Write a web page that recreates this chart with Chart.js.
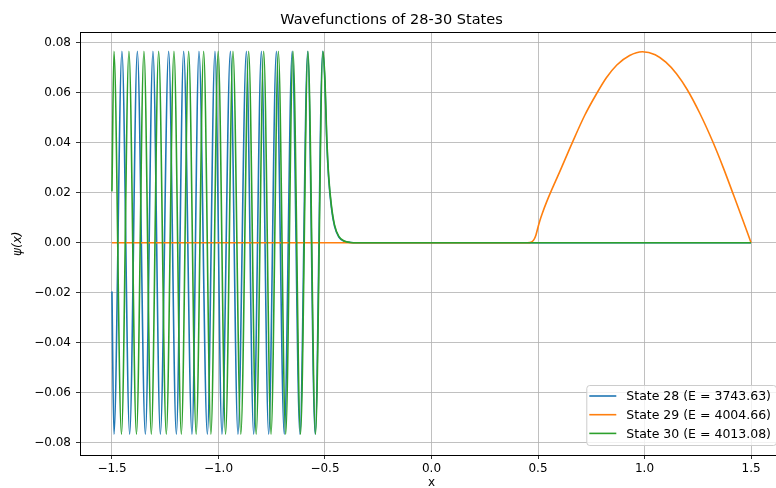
<!DOCTYPE html>
<html>
<head>
<meta charset="utf-8">
<script src="https://cdn.jsdelivr.net/npm/chart.js@4.4.1/dist/chart.umd.min.js"></script>
<style>
  html, body { margin: 0; padding: 0; background: #fff; overflow: hidden; }
  #wrap { width: 800px; height: 488px; }
</style>
</head>
<body>
<div id="wrap"><canvas id="chart" width="800" height="488"></canvas></div>
<script>
// values (extrema of each wave, then the decaying tail)
var seriesNames = ['State 28 (E = 3743.63)', 'State 29 (E = 4004.66)', 'State 30 (E = 4013.08)'];
var seriesColors = ['#1f77b4', '#ff7f0e', '#2ca02c'];

var state28X = [-1.5, -1.4906, -1.4531, -1.4169, -1.3808, -1.3432, -1.3075, -1.2728, -1.2338, -1.1977, -1.1634,
                -1.1244, -1.0915, -1.0521, -1.0164, -0.9836, -0.9441, -0.9085, -0.8690, -0.8347, -0.7986,
                -0.7643, -0.7282, -0.6911, -0.6540, -0.6176, -0.5812, -0.5460, -0.5108,
                -0.500, -0.492, -0.483, -0.470, -0.455, -0.435, -0.410, -0.380, -0.350, 1.5];
var state28Y = [-0.0195, -0.0765, 0.0765, -0.0765, 0.0765, -0.0765, 0.0765, -0.0765, 0.0765, -0.0765, 0.0765,
                -0.0765, 0.0765, -0.0765, 0.0765, -0.0765, 0.0765, -0.0765, 0.0765, -0.0765, 0.0765,
                -0.0765, 0.0765, -0.0765, 0.0765, -0.0765, 0.0765, -0.0765, 0.0765,
                0.063, 0.041, 0.026, 0.014, 0.0065, 0.0022, 0.0006, 0.0001, 0, 0];

var state29X = [-1.5, 0.45, 0.47, 0.48, 0.49, 0.50, 0.51, 0.52, 0.54, 0.56, 0.60, 0.66, 0.72, 0.77, 0.82, 0.87,
                0.93, 0.99, 1.05, 1.10, 1.15, 1.20, 1.26, 1.32, 1.37, 1.415, 1.46, 1.5];
var state29Y = [0, 0, 0.0003, 0.0011, 0.0030, 0.0062, 0.0092, 0.0117, 0.0162, 0.0203, 0.0280, 0.0398, 0.0510,
                0.0588, 0.0658, 0.0710, 0.0748, 0.0763, 0.0751, 0.0721, 0.0675, 0.0612, 0.0516, 0.0404,
                0.0299, 0.0197, 0.0094, 0];

var state30X = [-1.5, -1.4906, -1.4554, -1.4202, -1.3850, -1.3498, -1.3153, -1.2808, -1.2449, -1.2089, -1.1744,
                -1.1399, -1.1047, -1.0695, -1.0355, -1.0014, -0.9667, -0.9319, -0.8951, -0.8582, -0.8230,
                -0.7878, -0.7533, -0.7188, -0.6845, -0.6502, -0.6150, -0.5798, -0.5446, -0.5094,
                -0.500, -0.492, -0.483, -0.470, -0.455, -0.435, -0.410, -0.380, -0.350, 1.5];
var state30Y = [0.0205, 0.0765, -0.0765, 0.0765, -0.0765, 0.0765, -0.0765, 0.0765, -0.0765, 0.0765, -0.0765,
                0.0765, -0.0765, 0.0765, -0.0765, 0.0765, -0.0765, 0.0765, -0.0765, 0.0765, -0.0765,
                0.0765, -0.0765, 0.0765, -0.0765, 0.0765, -0.0765, 0.0765, -0.0765, 0.0765,
                0.065, 0.043, 0.027, 0.015, 0.007, 0.0025, 0.0007, 0.0001, 0, 0];

var xTicks = [-1.5, -1.0, -0.5, 0.0, 0.5, 1.0, 1.5];
var yTicks = [-0.08, -0.06, -0.04, -0.02, 0.00, 0.02, 0.04, 0.06, 0.08];

function pts(xs, ys){
    var out = [];
    for(var i = 0; i < xs.length; i++){
        out.push({x: xs[i], y: ys[i]});
    }
    return out;
}

function fmt(v, d){
    var s = Math.abs(v).toFixed(d);
    return (v < -1e-9 ? '\u2212' : '') + s;
}

var FONT = '"DejaVu Sans", "Liberation Sans", sans-serif';

// full box around the axes, like matplotlib spines
var framePlugin = {
    id: 'frame',
    afterDatasetsDraw: function(chart){
        var a = chart.chartArea, ctx = chart.ctx;
        ctx.save();
        ctx.strokeStyle = '#000';
        ctx.lineWidth = 1;
        ctx.strokeRect(Math.round(a.left) + 0.5, Math.round(a.top) + 0.5,
                       Math.round(a.right - a.left), Math.round(a.bottom - a.top));
        ctx.restore();
    }
};

// legend in the lower right corner of the plot
var legendPlugin = {
    id: 'boxLegend',
    afterDraw: function(chart){
        var a = chart.chartArea, ctx = chart.ctx;
        ctx.save();
        ctx.font = '12.5px ' + FONT;
        var tw = 0;
        seriesNames.forEach(function(n){ tw = Math.max(tw, ctx.measureText(n).width); });
        var w = 3 + 27 + 10 + tw + 5;
        var h = 60;
        var x0 = a.right - 7 - w;
        var y0 = a.bottom - 10 - h;
        ctx.beginPath();
        ctx.roundRect(x0 + 0.5, y0 + 0.5, w, h, 3);
        ctx.fillStyle = 'rgba(255,255,255,0.8)';
        ctx.fill();
        ctx.strokeStyle = '#cccccc';
        ctx.lineWidth = 1;
        ctx.stroke();
        ctx.textBaseline = 'middle';
        ctx.textAlign = 'left';
        for(var i = 0; i < seriesNames.length; i++){
            var cy = y0 + 11 + i * 18.7;
            ctx.strokeStyle = seriesColors[i];
            ctx.lineWidth = 1.6;
            ctx.beginPath();
            ctx.moveTo(x0 + 3, cy);
            ctx.lineTo(x0 + 30, cy);
            ctx.stroke();
            ctx.fillStyle = '#000';
            ctx.fillText(seriesNames[i], x0 + 40, cy + 1);
        }
        ctx.restore();
    }
};

function makeSet(i, xs, ys, order){
    return {
        label: seriesNames[i],
        data: pts(xs, ys),
        borderColor: seriesColors[i],
        backgroundColor: seriesColors[i],
        borderWidth: 1.6,
        pointRadius: 0,
        fill: false,
        cubicInterpolationMode: 'monotone',
        order: order
    };
}

var context = document.getElementById('chart').getContext('2d');
var myChart = new Chart(context, {
    type: 'line',
    data: {
        datasets: [
            makeSet(0, state28X, state28Y, 3),
            makeSet(1, state29X, state29Y, 2),
            makeSet(2, state30X, state30Y, 1)
        ]
    },
    options: {
        responsive: false,
        animation: false,
        events: [],
        layout: { padding: { left: 0, right: 17, top: 0, bottom: 0 } },
        plugins: {
            legend: { display: false },
            tooltip: { enabled: false },
            title: {
                display: true,
                text: 'Wavefunctions of 28-30 States',
                color: '#000',
                font: { family: FONT, size: 14.5, weight: 'normal' },
                padding: { top: 12, bottom: 3 }
            }
        },
        scales: {
            x: {
                type: 'linear',
                min: -1.65,
                max: 1.65,
                afterBuildTicks: function(scale){ scale.ticks = xTicks.map(function(v){ return {value: v}; }); },
                afterFit: function(scale){ scale.height = 33; },
                grid: { color: '#b0b0b0', lineWidth: 0.8, tickColor: '#000', tickLength: 4 },
                border: { display: false },
                ticks: {
                    color: '#000',
                    font: { family: FONT, size: 12 },
                    padding: 3,
                    maxRotation: 0,
                    callback: function(v){ return fmt(v, 1); }
                },
                title: {
                    display: true,
                    text: 'x',
                    color: '#000',
                    font: { family: FONT, size: 12, lineHeight: 0.9 },
                    padding: { top: 0, bottom: 0 }
                }
            },
            y: {
                type: 'linear',
                min: -0.0848,
                max: 0.0840,
                afterBuildTicks: function(scale){ scale.ticks = yTicks.map(function(v){ return {value: v}; }); },
                afterFit: function(scale){ scale.width = 80; },
                grid: { color: '#b0b0b0', lineWidth: 0.8, tickColor: '#000', tickLength: 4 },
                border: { display: false },
                ticks: {
                    color: '#000',
                    font: { family: FONT, size: 12 },
                    padding: 5,
                    callback: function(v){ return fmt(v, 2); }
                },
                title: {
                    display: true,
                    text: '\u03c8(x)',
                    color: '#000',
                    font: { family: FONT, size: 12, style: 'italic' },
                    padding: { top: 11, bottom: 0 }
                }
            }
        }
    },
    plugins: [framePlugin, legendPlugin]
});
</script>
</body>
</html>
